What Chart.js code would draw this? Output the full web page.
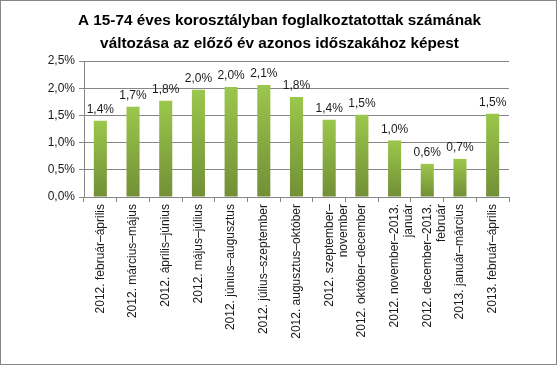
<!DOCTYPE html>
<html>
<head>
<meta charset="utf-8">
<script src="https://cdn.jsdelivr.net/npm/chart.js@4"></script>
<style>
  html, body { margin: 0; padding: 0; background: #fff; }
  #wrap { position: relative; width: 557px; height: 365px; box-sizing: border-box; border: 1px solid #868686; }
  canvas { display: block; }
</style>
</head>
<body>
<div id="wrap"><canvas id="chart" width="555" height="363"></canvas></div>
<script>
var categories = [
  '2012. február–április',
  '2012. március–május',
  '2012. április–június',
  '2012. május–július',
  '2012. június–augusztus',
  '2012. július–szeptember',
  '2012. augusztus–október',
  ['2012. szeptember–', 'november'],
  '2012. október–december',
  ['2012. november–2013.', 'január'],
  ['2012. december–2013.', 'február'],
  '2013. január–március',
  '2013. február–április'
];
var values = [1.40, 1.66, 1.77, 1.97, 2.02, 2.06, 1.84, 1.42, 1.51, 1.04, 0.61, 0.70, 1.53];
var titleLines = ['A 15-74 éves korosztályban foglalkoztatottak számának', 'változása az előző év azonos időszakához képest'];

var fontFamily = '"Liberation Sans", Arial, sans-serif';
var gridColor = '#868686';
var textColor = '#1a1a1a';

function pct(v) {
  return v.toFixed(1).replace('.', ',') + '%';
}

function barGradient(ctx) {
  var chart = ctx.chart;
  if (!chart.chartArea || ctx.parsed === undefined) return '#8db446';
  var y = chart.scales.y;
  var top = y.getPixelForValue(ctx.parsed.y);
  var bottom = y.getPixelForValue(0);
  var g = chart.ctx.createLinearGradient(0, top, 0, bottom);
  g.addColorStop(0, '#9bc74c');
  g.addColorStop(1, '#728f36');
  return g;
}

// title centred on the whole canvas, not on the padded box
var chartTitle = {
  id: 'chartTitle',
  afterDraw: function(chart) {
    var ctx = chart.ctx;
    ctx.save();
    ctx.font = 'bold 15.3px ' + fontFamily;
    ctx.fillStyle = '#000';
    ctx.textAlign = 'center';
    ctx.textBaseline = 'middle';
    titleLines.forEach(function(line, i) {
      ctx.fillText(line, chart.width / 2 + 1, 20 + i * 23);
    });
    ctx.restore();
  }
};

var valueLabels = {
  id: 'valueLabels',
  afterDatasetsDraw: function(chart) {
    var ctx = chart.ctx;
    var meta = chart.getDatasetMeta(0);
    ctx.save();
    ctx.font = '12px ' + fontFamily;
    ctx.fillStyle = textColor;
    ctx.textAlign = 'center';
    ctx.textBaseline = 'bottom';
    meta.data.forEach(function(bar, i) {
      ctx.fillText(pct(values[i]), bar.x, bar.y - 5);
    });
    ctx.restore();
  }
};

new Chart(document.getElementById('chart').getContext('2d'), {
  type: 'bar',
  data: {
    labels: categories,
    datasets: [{
      data: values,
      backgroundColor: barGradient,
      borderWidth: 0,
      barPercentage: 0.4,
      categoryPercentage: 1
    }]
  },
  options: {
    responsive: false,
    animation: false,
    layout: { padding: { left: 0, right: 47, top: 60, bottom: 0 } },
    plugins: {
      legend: { display: false },
      tooltip: { enabled: false },
      title: { display: false }
    },
    scales: {
      x: {
        grid: { display: true, drawOnChartArea: false, drawTicks: true, tickLength: 5, color: gridColor, offset: true },
        border: { color: gridColor },
        ticks: { color: textColor, font: { family: fontFamily, size: 12 }, minRotation: 90, maxRotation: 90, autoSkip: false, padding: 2 },
        afterFit: function(scale) { scale.height = 167; }
      },
      y: {
        min: 0,
        max: 2.5,
        grid: { color: gridColor, tickLength: 5 },
        border: { color: gridColor },
        ticks: {
          stepSize: 0.5,
          color: textColor,
          font: { family: fontFamily, size: 12 },
          padding: 4,
          callback: function(v) { return pct(v); }
        },
        afterFit: function(scale) { scale.width = 83; }
      }
    }
  },
  plugins: [valueLabels, chartTitle]
});
</script>
</body>
</html>
